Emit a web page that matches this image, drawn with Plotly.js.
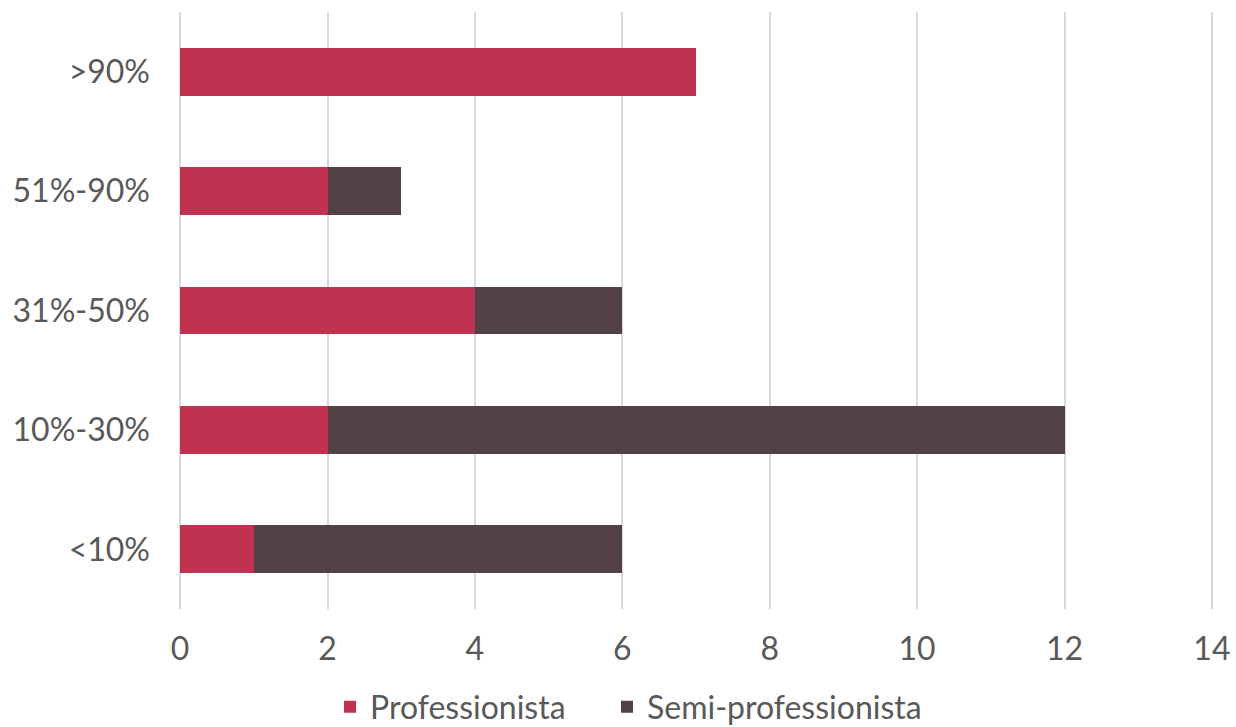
<!DOCTYPE html>
<html>
<head>
<meta charset="utf-8">
<script src="https://cdn.plot.ly/plotly-3.0.1.min.js"></script>
<style>html,body{margin:0;padding:0;background:#fff;}#chart{width:1236px;height:727px;}</style>
</head>
<body>
<div id="chart"></div>
<script>
const categories = ['<10%', '10%-30%', '31%-50%', '51%-90%', '>90%'];
const professionista = [1, 2, 4, 2, 7];
const semiProfessionista = [5, 10, 2, 1, 0];
const seriesNames = ['Professionista', 'Semi-professionista'];
const xTicks = [0, 2, 4, 6, 8, 10, 12, 14];

const fontFam = 'Lato, "Open Sans", sans-serif';
const data = [
  {type: 'bar', orientation: 'h', name: seriesNames[0], y: categories, x: professionista,
   marker: {color: '#C13150'}, hoverinfo: 'x+y', legend: 'legend'},
  {type: 'bar', orientation: 'h', name: seriesNames[1], y: categories, x: semiProfessionista,
   marker: {color: '#524245'}, hoverinfo: 'x+y', legend: 'legend2'}
];
const legendBase = {orientation: 'h', xref: 'container', xanchor: 'left', y: -0.164, yanchor: 'middle',
                    font: {size: 32, color: '#595959'}, itemwidth: 30, bgcolor: 'rgba(0,0,0,0)'};
const layout = {
  width: 1236, height: 727,
  barmode: 'stack', bargap: 0.6,
  margin: {l: 179, r: 23, t: 12, b: 118, autoexpand: false},
  paper_bgcolor: '#fff', plot_bgcolor: '#fff',
  font: {family: fontFam, size: 32, color: '#595959'},
  xaxis: {range: [-0.015, 14.015], tickvals: xTicks, showgrid: true, gridcolor: '#d9d9d9', gridwidth: 2,
          zeroline: false, showline: false, ticks: '', ticklabelstandoff: 18, fixedrange: true},
  yaxis: {type: 'category', categoryorder: 'array', categoryarray: categories, showgrid: false,
          zeroline: false, showline: false, ticks: '', ticklabelstandoff: 28, fixedrange: true},
  showlegend: true,
  legend: Object.assign({}, legendBase, {x: 330 / 1236}),
  legend2: Object.assign({}, legendBase, {x: 607 / 1236}),
};
Plotly.newPlot('chart', data, layout, {displayModeBar: false, staticPlot: true});
</script>
</body>
</html>
